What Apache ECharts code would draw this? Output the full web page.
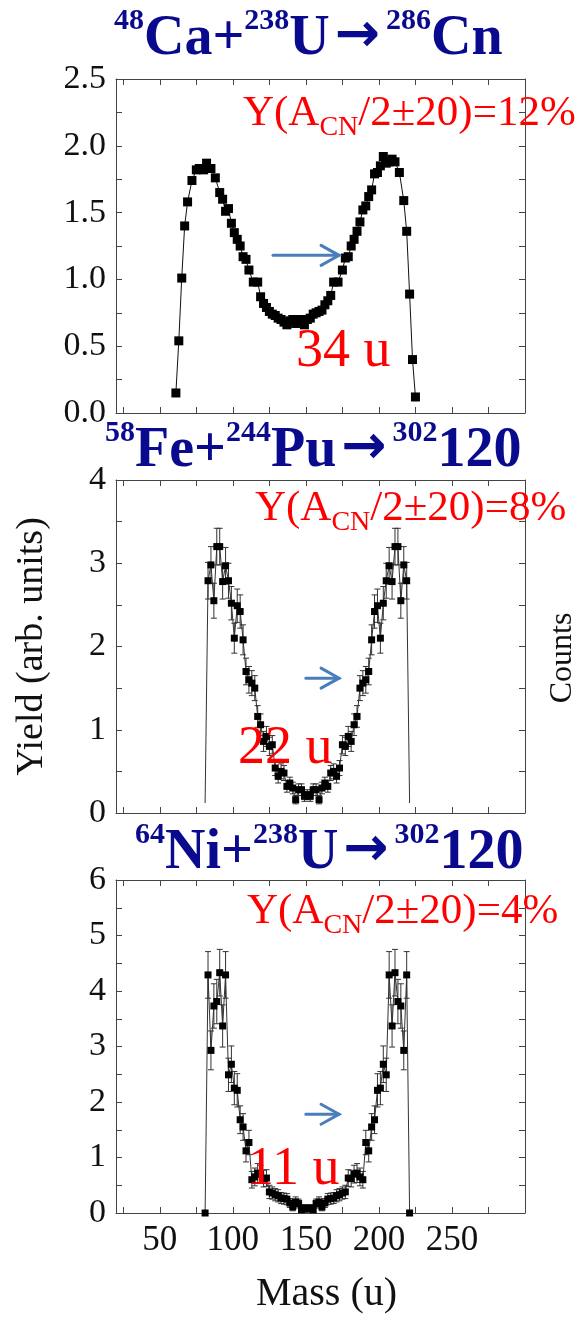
<!DOCTYPE html>
<html>
<head>
<meta charset="utf-8">
<script src="https://cdn.jsdelivr.net/npm/echarts@6/dist/echarts.min.js"></script>
<style>
  html, body { margin: 0; padding: 0; background: #fff; }
  #main { width: 587px; height: 1319px; }
</style>
</head>
<body>
<div id="main"></div>
<script>
// 48Ca + 238U -> 286Cn
const massCa = [61, 63, 65, 67, 69, 72, 75, 77, 80, 82, 85, 88, 91, 93, 95, 97, 99, 101, 103, 105, 107, 109, 111, 114, 117,
  119, 121, 123, 125, 127, 129, 131, 133, 135, 137, 139, 141, 143, 145, 147, 149, 151, 153, 155, 157, 159, 161, 163, 165,
  167, 169, 172, 175, 177, 179, 181, 183, 185, 187, 189, 191, 193, 195, 197, 199, 201, 203, 205, 207, 209, 211, 214, 217,
  219, 221, 223, 225];
const yieldCa = [0.15, 0.54, 1.01, 1.40, 1.58, 1.74, 1.82, 1.83, 1.82, 1.87, 1.83, 1.76, 1.65, 1.60, 1.51, 1.53, 1.42, 1.35,
  1.30, 1.25, 1.17, 1.15, 1.07, 0.98, 0.98,
  0.87, 0.82, 0.79, 0.76, 0.74, 0.73, 0.71, 0.70, 0.68, 0.66, 0.69, 0.70, 0.67, 0.69, 0.70, 0.66, 0.70, 0.71, 0.74, 0.75,
  0.76, 0.77, 0.81, 0.84,
  0.88, 0.98, 0.98, 1.07, 1.16, 1.17, 1.25, 1.30, 1.36, 1.43, 1.52, 1.55, 1.62, 1.67, 1.79, 1.80, 1.85, 1.92, 1.87, 1.88,
  1.90, 1.88, 1.80, 1.59,
  1.36, 0.89, 0.40, 0.12];

// 58Fe + 244Pu -> 302120
const massFe = [81, 83, 85, 87, 89, 91, 93, 95, 97, 99, 101, 103, 105, 107, 109, 111, 113, 115, 117, 119, 121, 123, 125,
  127, 129, 131, 133, 135, 137, 139, 141, 143, 145, 147, 149, 151, 153, 155, 157, 159, 161, 163, 165, 167, 169, 171, 173,
  175, 177, 179, 181, 183, 185, 187, 189, 191, 193, 195, 197, 199, 201, 203, 205, 207, 209, 211, 213, 215, 217, 219, 221];
const yieldFe = [0.12, 2.79, 2.98, 2.55, 3.20, 3.20, 2.78, 2.97, 2.79, 2.52, 2.10, 2.49, 2.42, 2.08, 1.70, 1.60, 1.56, 1.50,
  1.16, 1.06, 0.86, 0.92, 0.80, 0.82, 0.54, 0.44, 0.50, 0.48, 0.32, 0.36, 0.30, 0.16, 0.28, 0.28, 0.20, 0.22,
  0.20, 0.28, 0.28, 0.16, 0.30, 0.36, 0.32, 0.48, 0.50, 0.44, 0.54, 0.82, 0.80, 0.92, 0.86, 1.06, 1.16, 1.50, 1.56, 1.60,
  1.70, 2.08, 2.42, 2.49, 2.10, 2.52, 2.79, 2.97, 2.78, 3.20, 3.20, 2.55, 2.98, 2.79, 0.12];
const errFe = [0, 0.22, 0.22, 0.21, 0.22, 0.22, 0.21, 0.22, 0.21, 0.20, 0.18, 0.20, 0.20, 0.18, 0.16, 0.16, 0.15, 0.15,
  0.13, 0.13, 0.12, 0.12, 0.11, 0.11, 0.09, 0.08, 0.09, 0.09, 0.07, 0.07, 0.07, 0.05, 0.07, 0.07, 0.06, 0.06,
  0.06, 0.07, 0.07, 0.05, 0.07, 0.07, 0.07, 0.09, 0.09, 0.08, 0.09, 0.11, 0.11, 0.12, 0.12, 0.13, 0.13, 0.15, 0.15, 0.16,
  0.16, 0.18, 0.20, 0.20, 0.18, 0.20, 0.21, 0.22, 0.21, 0.22, 0.22, 0.21, 0.22, 0.22, 0];

// 64Ni + 238U -> 302120
const massNi = [81, 83, 85, 87, 89, 91, 93, 95, 97, 99, 101, 103, 105, 107, 109, 111, 113, 115, 117, 119, 121, 123, 125,
  127, 129, 131, 133, 135, 137, 139, 141, 143, 145, 147, 149, 151, 153, 155, 157, 159, 161, 163, 165, 167, 169, 171, 173,
  175, 177, 179, 181, 183, 185, 187, 189, 191, 193, 195, 197, 199, 201, 203, 205, 207, 209, 211, 213, 215, 217, 219, 221];
const yieldNi = [0.00, 4.29, 2.93, 3.73, 3.81, 4.33, 3.37, 4.29, 2.49, 2.68, 2.25, 2.21, 1.68, 1.55, 1.12, 1.27, 0.60, 0.65,
  0.72, 0.70, 0.62, 0.63, 0.38, 0.36, 0.33, 0.31, 0.27, 0.26, 0.25, 0.18, 0.11, 0.20, 0.17, 0.06, 0.09, 0.07,
  0.09, 0.06, 0.17, 0.20, 0.11, 0.18, 0.25, 0.26, 0.27, 0.31, 0.33, 0.36, 0.38, 0.63, 0.62, 0.70, 0.72, 0.65, 0.60, 1.27,
  1.12, 1.55, 1.68, 2.21, 2.25, 2.68, 2.49, 4.29, 3.37, 4.33, 3.81, 3.73, 2.93, 4.29, 0.00];
const errNi = [0, 0.42, 0.35, 0.40, 0.40, 0.42, 0.38, 0.42, 0.30, 0.33, 0.30, 0.30, 0.25, 0.24, 0.20, 0.22, 0.15, 0.16,
  0.17, 0.16, 0.15, 0.15, 0.12, 0.11, 0.11, 0.11, 0.10, 0.10, 0.10, 0.08, 0.07, 0.09, 0.08, 0.05, 0.06, 0.05,
  0.06, 0.05, 0.08, 0.09, 0.07, 0.08, 0.10, 0.10, 0.10, 0.11, 0.11, 0.11, 0.12, 0.15, 0.15, 0.16, 0.17, 0.16, 0.15, 0.22,
  0.20, 0.24, 0.25, 0.30, 0.30, 0.33, 0.30, 0.42, 0.38, 0.42, 0.40, 0.40, 0.35, 0.42, 0];

// axis ticks / labels
const xTicks = [25, 50, 75, 100, 125, 150, 175, 200, 225, 250, 275];
const xLabels = [50, 100, 150, 200, 250];
const yTicksCa = [0, 0.25, 0.5, 0.75, 1, 1.25, 1.5, 1.75, 2, 2.25, 2.5];
const yLabelsCa = [0, 0.5, 1, 1.5, 2, 2.5];
const yTicksFe = [0, 0.5, 1, 1.5, 2, 2.5, 3, 3.5, 4];
const yLabelsFe = [0, 1, 2, 3, 4];
const yTicksNi = [0, 0.5, 1, 1.5, 2, 2.5, 3, 3.5, 4, 4.5, 5, 5.5, 6];
const yLabelsNi = [0, 1, 2, 3, 4, 5, 6];

// arrow annotations, [x0, x1, y] in data units
const arrowsAt = [[127.5, 172.7, 1.18], [150, 172.7, 1.62], [150, 172.7, 1.78]];

const serif = '"Liberation Serif", "DejaVu Serif", serif';
const axisColor = '#444';

let chart = echarts.init(document.getElementById('main'));

function xAxisFor(gridIndex, position, showLabels, name) {
  return {
    type: 'value', gridIndex: gridIndex, position: position, min: 20, max: 300,
    name: name || '', nameLocation: 'middle', nameGap: 61,
    nameTextStyle: { fontFamily: serif, fontSize: 40, color: '#111', padding: [0, 0, 0, 12] },
    axisLine: { show: true, onZero: false, lineStyle: { color: axisColor, width: 1 } },
    axisTick: { show: true, inside: true, length: 6, customValues: xTicks, lineStyle: { color: axisColor } },
    axisLabel: { show: showLabels, customValues: xLabels, fontFamily: serif, fontSize: 35, color: '#111', margin: 10 },
    splitLine: { show: false }
  };
}

function yAxisFor(gridIndex, position, max, ticks, labels, fmt, showLabels) {
  return {
    type: 'value', gridIndex: gridIndex, position: position, min: 0, max: max,
    axisLine: { show: true, onZero: false, lineStyle: { color: axisColor, width: 1 } },
    axisTick: { show: true, inside: true, length: 6, customValues: ticks, lineStyle: { color: axisColor } },
    axisLabel: {
      show: showLabels, customValues: labels, fontFamily: serif, fontSize: 34, color: '#111', margin: 10,
      formatter: fmt
    },
    splitLine: { show: false }
  };
}

function pairs(xs, ys, bare) {
  return xs.map(function (x, i) {
    if (bare && ys[i] < 0.15 && (i === 0 || i === xs.length - 1)) {
      return { value: [x, ys[i]], symbol: 'none' };
    }
    return [x, ys[i]];
  });
}

function errRows(xs, ys, es) {
  let rows = [];
  for (let i = 0; i < xs.length; i++) {
    if (es[i] > 0) rows.push([xs[i], ys[i] - es[i], ys[i] + es[i]]);
  }
  return rows;
}

function errorBars(params, api) {
  let lo = api.coord([api.value(0), api.value(1)]);
  let hi = api.coord([api.value(0), api.value(2)]);
  let w = 3;
  let st = { stroke: '#333', lineWidth: 1 };
  return {
    type: 'group',
    children: [
      { type: 'line', shape: { x1: lo[0], y1: lo[1], x2: hi[0], y2: hi[1] }, style: st },
      { type: 'line', shape: { x1: lo[0] - w, y1: lo[1], x2: lo[0] + w, y2: lo[1] }, style: st },
      { type: 'line', shape: { x1: hi[0] - w, y1: hi[1], x2: hi[0] + w, y2: hi[1] }, style: st }
    ]
  };
}

const fmt1 = function (v) { return v.toFixed(1); };
const fmt0 = function (v) { return String(v); };

// rich title pieces
const blue = '#0a0a8f';
const titleRich = {
  sup: { fontFamily: serif, fontSize: 30, fontWeight: 'bold', color: blue, verticalAlign: 'top' },
  big: { fontFamily: serif, fontSize: 56, fontWeight: 'bold', color: blue, verticalAlign: 'top', padding: [6, 0, 0, 0] },
  arr: { fontFamily: '"DejaVu Sans", sans-serif', fontSize: 54, fontWeight: 'bold', color: blue, verticalAlign: 'top', padding: [4, 6, 0, 5] }
};
const redRich = {
  m: { fontFamily: serif, fontSize: 43, fontWeight: 'normal', color: '#ff0000', verticalAlign: 'bottom', padding: [0, 0, 7, 0] },
  s: { fontFamily: serif, fontSize: 28, fontWeight: 'normal', color: '#ff0000', verticalAlign: 'bottom' }
};
const widthText = { fontFamily: serif, fontSize: 54, fontWeight: 'normal', color: '#ff0000' };

chart.setOption({
  animation: false,
  backgroundColor: '#fff',
  title: [
    { text: '{sup|48}{big|Ca+}{sup|238}{big|U}{arr|→}{sup|286}{big|Cn}', left: 114, top: 6, padding: 0, textStyle: { rich: titleRich } },
    { text: '{sup|58}{big|Fe+}{sup|244}{big|Pu}{arr|→}{sup|302}{big|120}', left: 105, top: 418, padding: 0, textStyle: { rich: titleRich } },
    { text: '{sup|64}{big|Ni+}{sup|238}{big|U}{arr|→}{sup|302}{big|120}', left: 135, top: 820, padding: 0, textStyle: { rich: titleRich } },
    { text: '{m|Y(A}{s|CN}{m|/2±20)=12%}', left: 243, top: 92, padding: 0, textStyle: { fontWeight: 'normal', rich: redRich } },
    { text: '{m|Y(A}{s|CN}{m|/2±20)=8%}', left: 255, top: 487, padding: 0, textStyle: { fontWeight: 'normal', rich: redRich } },
    { text: '{m|Y(A}{s|CN}{m|/2±20)=4%}', left: 247, top: 890, padding: 0, textStyle: { fontWeight: 'normal', rich: redRich } },
    { text: '34 u', left: 296, top: 325, padding: 0, textStyle: widthText },
    { text: '22 u', left: 238, top: 722, padding: 0, textStyle: widthText },
    { text: '11 u', left: 247, top: 1143, padding: 0, textStyle: widthText }
  ],
  grid: [
    { left: 116, width: 409, top: 79, height: 334 },
    { left: 116, width: 409, top: 480, height: 333 },
    { left: 116, width: 409, top: 880, height: 333 }
  ],
  xAxis: [
    xAxisFor(0, 'bottom', false), xAxisFor(0, 'top', false),
    xAxisFor(1, 'bottom', false), xAxisFor(1, 'top', false),
    xAxisFor(2, 'bottom', true, 'Mass (u)'), xAxisFor(2, 'top', false)
  ],
  yAxis: [
    yAxisFor(0, 'left', 2.5, yTicksCa, yLabelsCa, fmt1, true),
    yAxisFor(0, 'right', 2.5, yTicksCa, yLabelsCa, fmt1, false),
    Object.assign(yAxisFor(1, 'left', 4, yTicksFe, yLabelsFe, fmt0, true), {
      name: 'Yield (arb. units)', nameLocation: 'middle', nameGap: 65, nameRotate: 90,
      nameTextStyle: { fontFamily: serif, fontSize: 38, color: '#111' }
    }),
    yAxisFor(1, 'right', 4, yTicksFe, yLabelsFe, fmt0, false),
    yAxisFor(2, 'left', 6, yTicksNi, yLabelsNi, fmt0, true),
    yAxisFor(2, 'right', 6, yTicksNi, yLabelsNi, fmt0, false)
  ],
  series: [
    {
      type: 'line', xAxisIndex: 0, yAxisIndex: 0, data: pairs(massCa, yieldCa, false),
      symbol: 'rect', symbolSize: 9, itemStyle: { color: '#000' }, lineStyle: { color: '#111', width: 1 }, z: 3
    },
    {
      type: 'custom', xAxisIndex: 2, yAxisIndex: 2, data: errRows(massFe, yieldFe, errFe),
      renderItem: errorBars, encode: { x: 0, y: [1, 2] }, z: 2
    },
    {
      type: 'line', xAxisIndex: 2, yAxisIndex: 2, data: pairs(massFe, yieldFe, true),
      symbol: 'rect', symbolSize: 7, itemStyle: { color: '#000' }, lineStyle: { color: '#333', width: 1 }, z: 3
    },
    {
      type: 'custom', xAxisIndex: 4, yAxisIndex: 4, data: errRows(massNi, yieldNi, errNi),
      renderItem: errorBars, encode: { x: 0, y: [1, 2] }, z: 2
    },
    {
      type: 'line', xAxisIndex: 4, yAxisIndex: 4, data: pairs(massNi, yieldNi, false),
      symbol: 'rect', symbolSize: 7, itemStyle: { color: '#000' }, lineStyle: { color: '#333', width: 1 }, z: 3
    }
  ]
});

// blue arrows (placed through the grid scales) and the right-hand "Counts" label
let extraEls = [];
arrowsAt.forEach(function (a, i) {
  let p0 = chart.convertToPixel({ xAxisIndex: 2 * i, yAxisIndex: 2 * i }, [a[0], a[2]]);
  let p1 = chart.convertToPixel({ xAxisIndex: 2 * i, yAxisIndex: 2 * i }, [a[1], a[2]]);
  let st = { stroke: '#4a7ebb', lineWidth: 3, fill: null, lineCap: 'round', lineJoin: 'miter' };
  extraEls.push({ type: 'polyline', z: 50, shape: { points: [p0, p1] }, style: st });
  extraEls.push({
    type: 'polyline', z: 50,
    shape: { points: [[p1[0] - 18, p1[1] - 10], p1, [p1[0] - 18, p1[1] + 10]] }, style: st
  });
});
extraEls.push({
  type: 'text', x: 563, y: 658, rotation: Math.PI / 2, z: 50,
  style: { text: 'Counts', font: '32px "Liberation Serif"', fill: '#111', align: 'center', verticalAlign: 'middle' }
});
chart.setOption({ graphic: extraEls });

window.onresize = chart.resize;
</script>
</body>
</html>
